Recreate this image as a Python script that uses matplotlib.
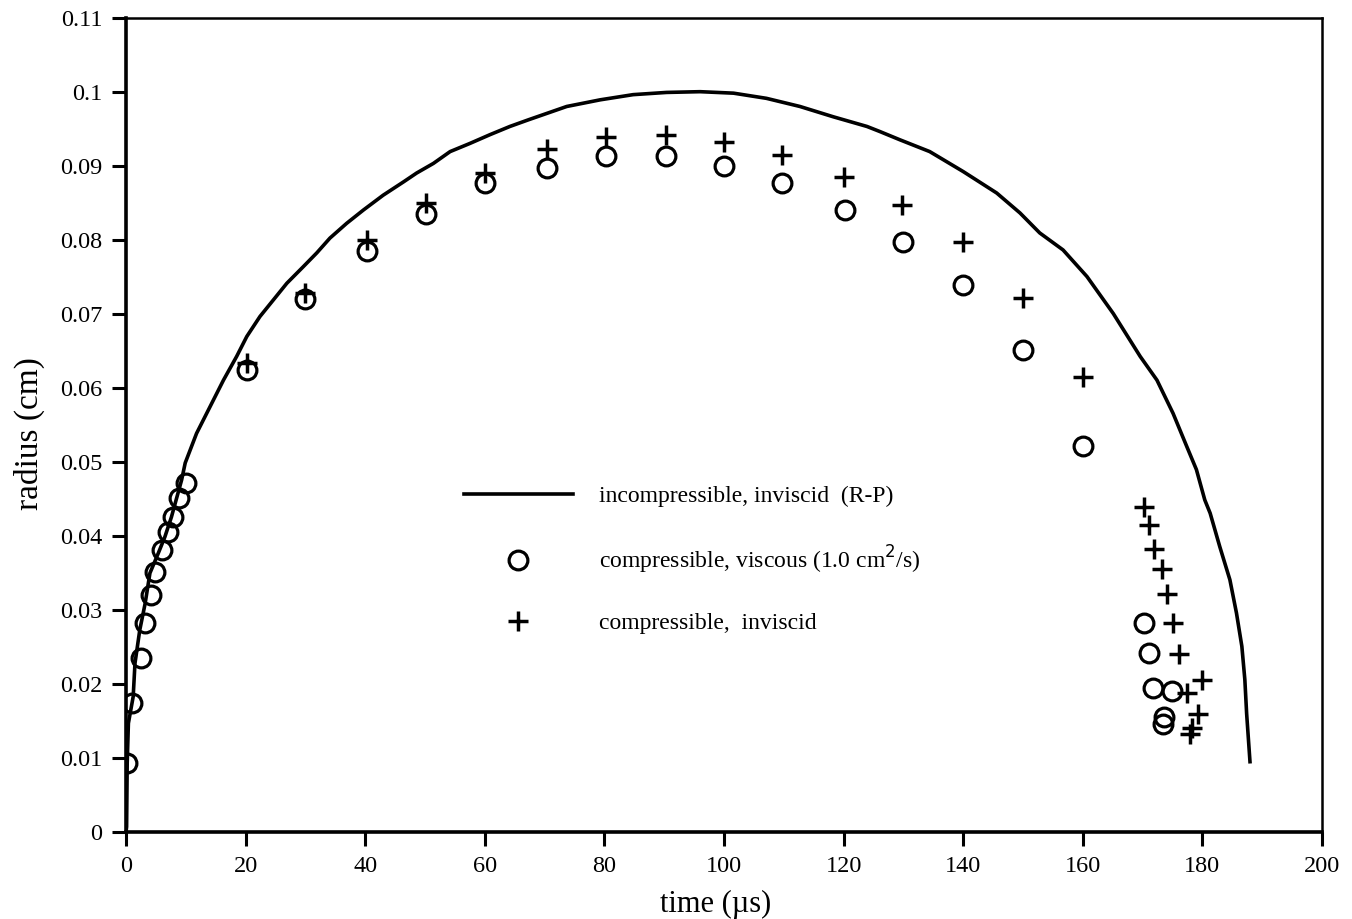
import numpy as np
import matplotlib
matplotlib.use('Agg')
import matplotlib.pyplot as plt

plt.rcParams['font.family'] = ['Liberation Serif', 'DejaVu Serif']

# incompressible, inviscid (R-P) curve
rp_t = [0, 0.1, 0.2, 0.4, 1.2, 1.5, 2.3, 3.2, 4.0, 5.4, 6.5, 7.6, 9.3,
        9.9, 11.8, 14.05, 16.3, 18.5, 20.2, 22.4, 24.6, 26.9, 29.6, 31.9, 34.1,
        36.9, 39.7, 43.0, 46.4, 48.6, 51.4, 54.2, 57.5, 60.9, 64.2, 67.3,
        73.7, 79.3, 84.8, 90.4, 96.0, 101.6, 107.1, 112.7, 118.3, 123.9,
        126.1, 129.4, 134.4, 140.0, 145.6, 149.5, 152.8, 156.7, 160.7, 165.1,
        169.6, 172.4, 175.1, 177.4, 179.0, 180.4, 181.3, 182.9, 184.6, 185.7,
        186.6, 187.1, 187.4, 187.96]
rp_r = [0, 0.0007, 0.0093, 0.0147, 0.0183, 0.0228, 0.0273, 0.0309, 0.035,
        0.0377, 0.0399, 0.0426, 0.0476,
        0.0499, 0.0539, 0.0575, 0.0611, 0.0643, 0.067, 0.0697, 0.0719, 0.0742,
        0.0764, 0.0783, 0.0803, 0.0823, 0.0841, 0.0861, 0.0879, 0.0891, 0.0904,
        0.092, 0.0931, 0.0943, 0.0954, 0.0963,
        0.0981, 0.099, 0.0997, 0.1, 0.1001, 0.0999, 0.0992, 0.0981, 0.0967,
        0.0954, 0.0947, 0.0936, 0.092, 0.0893, 0.0864, 0.0837, 0.081, 0.0787,
        0.0751, 0.0701, 0.0643, 0.0611, 0.0566, 0.0521, 0.049, 0.0449, 0.0431,
        0.0386, 0.0341, 0.0296, 0.0251, 0.0206, 0.016, 0.0095]

# compressible, viscous (circles)
visc_t = [0.1, 1.0, 2.5, 3.2, 4.2, 4.9, 6.0, 7.0, 7.9, 8.9, 10.0, 20.2, 30, 40.3,
          50.2, 60.1, 70.4, 80.3, 90.3, 100, 109.7, 120.2, 130, 140, 150, 160,
          170.2, 171.0, 171.7, 175.0, 173.5, 173.4]
visc_r = [0.0093, 0.0174, 0.0235, 0.0282, 0.032, 0.0351, 0.0381, 0.0405, 0.0426,
          0.0452, 0.0472, 0.0624, 0.0721, 0.0785, 0.0836, 0.0877, 0.0898, 0.0914,
          0.0914, 0.09, 0.0877, 0.0841, 0.0798, 0.074, 0.0652, 0.0522,
          0.0283, 0.0242, 0.0194, 0.0191, 0.0155, 0.0146]

# compressible, inviscid (pluses)
invisc_t = [20.2, 30, 40.3, 50.2, 60.1, 70.4, 80.3, 90.3, 100, 109.7, 120.1, 129.8,
            140, 150, 160, 170.2, 171.0, 171.9, 173.2, 174.1, 175.1, 176.1, 179.9,
            177.4, 179.2, 178.2, 178.0]
invisc_r = [0.0634, 0.0729, 0.08, 0.085, 0.0891, 0.0923, 0.094, 0.0943, 0.0933,
            0.0915, 0.0885, 0.0848, 0.0798, 0.0722, 0.0615, 0.0439, 0.0415, 0.0383,
            0.0356, 0.0322, 0.0283, 0.0241, 0.0206, 0.0188, 0.016, 0.014, 0.0133]

x_ticks = np.arange(0, 201, 20)
y_ticks = [0, 0.01, 0.02, 0.03, 0.04, 0.05, 0.06, 0.07, 0.08, 0.09, 0.1, 0.11]
y_labels = ['0', '0.01', '0.02', '0.03', '0.04', '0.05', '0.06', '0.07', '0.08',
            '0.09', '0.1', '0.11']

fig = plt.figure(figsize=(13.52, 9.19), dpi=100)
ax = fig.add_axes([0.0932, 0.0947, 0.8846, 0.8852])

ax.plot(rp_t, rp_r, color='k', lw=2.6, label='incompressible, inviscid  (R-P)')
ax.plot(visc_t, visc_r, ls='none', marker='o', ms=13.5, mfc='none', mec='k', mew=2.3,
        label='compressible, viscous (1.0 cm$^{2}$/s)')
ax.plot(invisc_t, invisc_r, ls='none', marker='+', ms=15, mec='k', mew=2.5,
        label='compressible,  inviscid')

ax.set_xlim(0, 200)
ax.set_ylim(0, 0.11)
ax.set_xticks(x_ticks)
ax.set_yticks(y_ticks)
ax.set_yticklabels(y_labels)
ax.tick_params(direction='out', length=10, width=2.2, labelsize=17.5)
ax.tick_params(axis='y', pad=7)
ax.tick_params(axis='x', pad=7)

for side in ['left', 'bottom']:
    ax.spines[side].set_linewidth(2.6)
for side in ['top', 'right']:
    ax.spines[side].set_linewidth(1.8)

ax.set_xlabel('time (\u00b5s)', fontsize=22)
ax.xaxis.set_label_coords(0.493, -0.071)
ax.set_ylabel('radius (cm)', fontsize=24)
ax.yaxis.set_label_coords(-0.068, 0.49)

ax.legend(loc='upper left', bbox_to_anchor=(0.265, 0.452), frameon=False,
          fontsize=17, handlelength=4.6, handletextpad=1.1, labelspacing=1.55,
          numpoints=1)

fig.savefig('out.png', dpi=100)
